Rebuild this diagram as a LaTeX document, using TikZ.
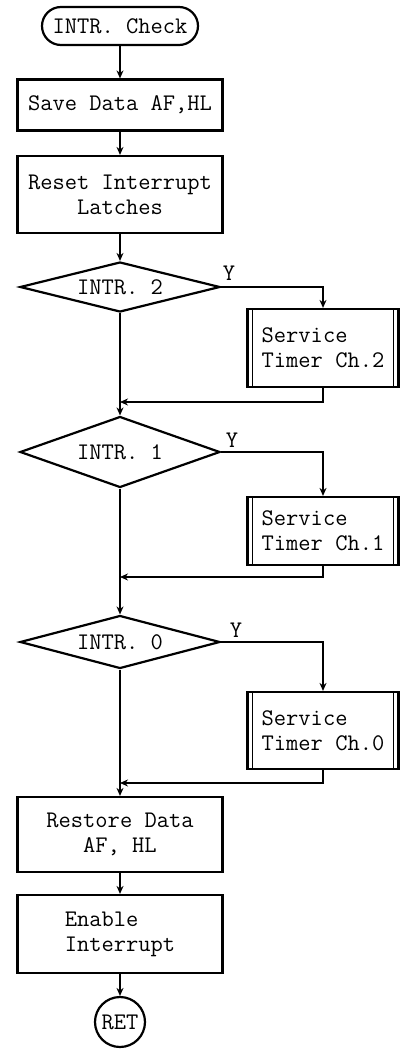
\documentclass[tikz,border=0pt]{standalone}
\usetikzlibrary{shapes.geometric,arrows.meta}

\begin{document}
\begin{tikzpicture}[x=0.5pt,y=-0.5pt,
  every node/.style={font=\ttfamily\fontsize{11.9}{12.5}\selectfont},
  flow/.style={line width=1pt,-{Stealth[length=4pt,width=3.5pt]}},
  term/.style={draw,line width=1.1pt,rectangle,rounded corners=9.5pt,minimum width=78pt,minimum height=19pt,inner sep=1pt},
  box/.style={draw,line width=1.1pt,rectangle,minimum width=102.5pt,align=center},
  sub/.style={draw,line width=1.1pt,rectangle,minimum width=75.5pt,align=left,
    path picture={
      \draw[line width=0.8pt] ([xshift=2.5pt]path picture bounding box.north west) -- ([xshift=2.5pt]path picture bounding box.south west);
      \draw[line width=0.8pt] ([xshift=-2.5pt]path picture bounding box.north east) -- ([xshift=-2.5pt]path picture bounding box.south east);}},
  dec/.style={draw,line width=1.1pt,diamond,aspect=4,minimum width=100pt,inner sep=0pt}
]
\useasboundingbox (0,0) rectangle (407,1049);

\node[term] (start) at (120,26) {INTR. Check};
\node[box,minimum height=25.5pt] (save) at (120,105) {Save Data AF,HL};
\node[box,minimum height=38.5pt] (reset) at (120,194.5) {Reset Interrupt\\Latches};

\node[dec,minimum height=25pt] (d2) at (120,287) {INTR. 2};
\node (y2) at (229,273) {Y};
\node[sub,minimum height=39pt] (s2) at (323,348) {Service\\Timer Ch.2};
\coordinate (m2) at (120,402);

\node[dec,minimum height=35.5pt] (d1) at (120,452) {INTR. 1};
\node (y1) at (232,440) {Y};
\node[sub,minimum height=34pt] (s1) at (323,531) {Service\\Timer Ch.1};
\coordinate (m1) at (120,577);

\node[dec,minimum height=26.5pt] (d0) at (120,642) {INTR. 0};
\node (y0) at (236,630) {Y};
\node[sub,minimum height=38.5pt] (s0) at (323,730.5) {Service\\Timer Ch.0};
\coordinate (m0) at (120,783);

\node[box,minimum height=37.5pt] (restore) at (120,834.5) {Restore Data\\AF, HL};
\node[box,minimum height=39pt,align=left] (enable) at (120,934) {Enable\\Interrupt};
\node[draw,line width=1.1pt,circle,minimum size=25pt,inner sep=0pt] (ret) at (120,1022) {RET};

\path[draw,flow] (start) -- (save);
\path[draw,flow] (save) -- (reset);
\path[draw,flow] (reset) -- (d2);
\path[draw,flow] (d2.east) -| (s2.north);
\path[draw,flow] (s2.south) |- (m2);
\path[draw,flow] (d2.south) -- (d1.north);
\path[draw,flow] (d1.east) -| (s1.north);
\path[draw,flow] (s1.south) |- (m1);
\path[draw,flow] (d1.south) -- (d0.north);
\path[draw,flow] (d0.east) -| (s0.north);
\path[draw,flow] (s0.south) |- (m0);
\path[draw,flow] (d0.south) -- (restore.north);
\path[draw,flow] (restore) -- (enable);
\path[draw,flow] (enable) -- (ret);
\end{tikzpicture}
\end{document}
